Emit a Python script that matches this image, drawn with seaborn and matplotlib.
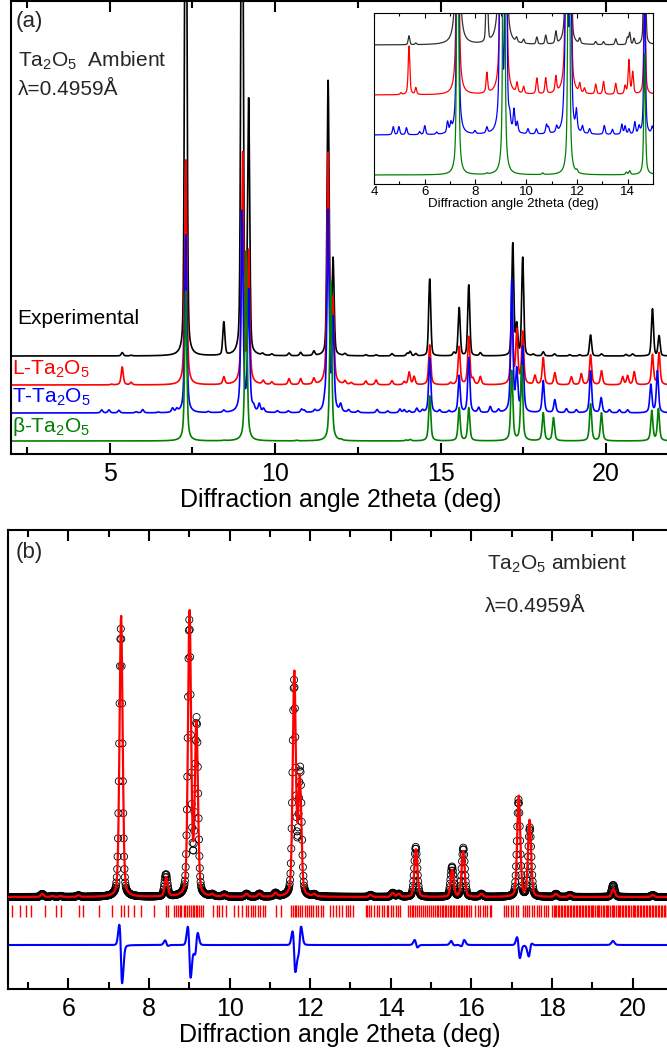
import numpy as np
import pandas as pd
import matplotlib
matplotlib.use("Agg")
import matplotlib.pyplot as plt
from matplotlib.ticker import MultipleLocator
import seaborn as sns

# ---------------- Panel (a): stacked patterns, peak lists (deg 2theta, a.u.) ----------------
exp_pos = [5.38, 5.65, 7.30, 8.45, 9.00, 9.20, 9.62, 9.90, 10.42, 10.77, 11.17, 11.60, 11.75,
           12.11, 12.74, 13.05, 13.53, 13.99, 14.08, 14.25, 14.67, 15.40, 15.56, 15.85, 16.20,
           17.18, 17.30, 17.48, 17.80, 18.10, 18.44, 18.90, 19.20, 19.53, 19.86, 20.60, 20.80,
           21.40, 21.60]
exp_int = [3.3, 0.6, 700, 33, 700, 251, 1.6, 1.5, 2.6, 3.3, 4.4, 274, 94,
           1.9, 1.1, 1.1, 2.2, 2.6, 4.4, 2.2, 77, 3, 48, 71, 3,
           112, 30, 98, 1.5, 4, 2, 1.2, 1.2, 21, 2, 1.5, 2,
           47, 20]

l_pos = [5.06, 5.38, 5.65, 7.30, 8.45, 9.02, 9.20, 9.64, 9.90, 10.42, 10.77, 11.17, 11.60, 11.75,
         12.11, 12.30, 12.74, 13.05, 13.53, 13.90, 14.05, 14.20, 14.67, 15.30, 15.56, 15.85, 15.98,
         16.20, 17.15, 17.30, 17.48, 17.85, 18.10, 18.45, 18.95, 19.25, 19.53, 19.86, 20.50, 20.65,
         20.85, 21.40, 21.60]
l_int = [0.7, 18, 2.5, 225, 7.5, 230, 130, 3.7, 2.6, 5.9, 5.9, 5.9, 230, 80,
         3.3, 1.9, 3.7, 4.8, 4.1, 3, 12.6, 8.1, 40, 2, 38, 48, 5,
         8, 70, 53, 52, 9, 27, 12, 8, 11, 30, 14, 8, 9,
         13, 30, 32]

t_pos = [4.76, 4.98, 5.28, 5.80, 6.00, 6.47, 6.90, 7.03, 7.30, 7.98, 8.45, 9.00, 9.20, 9.35, 9.52,
         9.65, 10.07, 10.40, 10.80, 10.88, 11.20, 11.50, 11.60, 11.75, 11.98, 12.22, 12.50, 13.08,
         13.40, 13.77, 13.90, 14.05, 14.28, 14.45, 14.67, 14.97, 15.25, 15.56, 15.85, 16.15, 16.50,
         16.75, 17.15, 17.30, 17.48, 18.10, 18.45, 18.80, 19.10, 19.53, 19.85, 20.10, 20.40, 20.65,
         21.35, 21.55]
t_int = [3, 3, 2.6, 1.1, 3.3, 0.8, 4.1, 3, 178, 1.1, 2.2, 200, 120, 4, 8,
         3.7, 1.9, 1.9, 3.3, 2.2, 2.2, 6, 200, 90, 7.4, 2.6, 1.9, 3.3,
         1.9, 3.7, 3, 1.9, 4.4, 2.6, 55, 2.6, 2, 37, 55, 5, 6,
         3, 132, 40, 65, 32, 13, 4, 3, 42, 15, 3, 3, 3,
         28, 42]

b_pos = [7.30, 8.45, 9.12, 10.65, 11.68, 12.00, 13.95, 14.08, 14.67, 15.56, 15.85, 17.15, 17.45,
         18.10, 18.41, 19.53, 19.86, 21.38, 21.58]
b_int = [150, 0.4, 190, 0.6, 160, 0.9, 0.9, 1.4, 45, 33, 33, 70, 75,
         28, 23, 37, 28, 30, 32]

stack_names = ["Experimental", "L-Ta$_2$O$_5$", "T-Ta$_2$O$_5$", "\u03b2-Ta$_2$O$_5$"]
stack_colors = ["black", "#ff0000", "#0000ff", "#008000"]
stack_offsets = [98, 69, 41, 13]          # baseline of each pattern in the main panel
inset_offsets = [139, 89, 49, 9]          # baselines in the zoomed inset
inset_gain = 2.7                          # inset magnification

# ---------------- Panel (b): Rietveld fit ----------------
obs_pos = [5.35, 5.60, 5.80, 6.25, 7.30, 8.42, 9.00, 9.18, 9.57, 9.87, 10.42, 10.74, 11.14, 11.60,
           11.75, 12.10, 13.50, 14.05, 14.20, 14.62, 15.52, 15.80, 16.25, 17.17, 17.45, 18.10,
           18.45, 19.52, 20.50]
obs_int = [3, 1, 1, 1.5, 268, 22, 274, 175, 2, 2, 3, 3, 3.5, 214,
           125, 2, 2, 4, 3, 50, 30, 49, 3, 97, 69, 3,
           2, 12, 2]
calc_int = [3, 1, 1, 1.5, 282, 19, 285, 172, 2, 2, 3, 3, 3.5, 224,
            116, 2, 2, 4, 3, 48, 27, 46, 3, 101, 77, 3,
            2, 8, 2]
calc_shift = [0, 0, 0, 0, 0.007, 0.008, 0.006, -0.004, 0, 0, 0, 0, 0, 0.006,
              -0.007, 0, 0, 0, 0, 0.005, 0.004, -0.004, 0, 0.007, -0.005, 0,
              0, 0.003, 0]
fit_baseline = 92
diff_baseline = 44
tick_row = (72, 84)

bragg_pos = [4.61, 4.79, 4.95, 5.07, 5.42, 5.68, 5.82, 6.26, 6.37, 6.76, 7.07, 7.30, 7.37, 7.48,
             7.63, 7.79, 8.13, 8.42, 8.48, 8.63, 8.68, 8.72, 8.77, 8.80, 8.86, 8.90, 8.95, 9.00,
             9.03, 9.08, 9.12, 9.17, 9.20, 9.25, 9.30, 9.34, 9.58, 9.69, 9.74, 9.80, 9.90, 10.10,
             10.20, 10.32, 10.40, 10.45, 10.52, 10.57, 10.63, 10.70, 10.76, 10.82, 10.88, 11.16,
             11.27, 11.53, 11.57, 11.62, 11.66, 11.70, 11.75, 11.80, 11.86, 11.91, 11.96, 12.02,
             12.08, 12.14, 12.20, 12.26, 12.32, 12.48, 12.56, 12.63, 12.72, 12.80, 12.88, 12.94,
             13.00, 13.06, 13.38, 13.42, 13.47, 13.52, 13.58, 13.65, 13.72, 13.78, 13.84, 13.90,
             13.94, 14.00, 14.06, 14.12, 14.18, 14.22, 14.43, 14.47, 14.52, 14.56, 14.60, 14.65,
             14.70, 14.76, 14.80, 14.85, 14.90, 14.95, 15.00, 15.05, 15.10, 15.14, 15.18, 15.22,
             15.26, 15.30, 15.34, 15.38, 15.42, 15.46, 15.50, 15.54, 15.58, 15.62, 15.66, 15.70,
             15.74, 15.78, 15.82, 15.86, 15.90, 15.95, 16.00, 16.10, 16.16, 16.22, 16.28, 16.34,
             16.40, 16.46, 16.50, 16.80, 16.86, 16.92, 16.98, 17.04, 17.10, 17.16, 17.27, 17.32,
             17.38, 17.44, 17.50, 17.56, 17.62, 17.68, 17.74, 17.80, 17.86, 17.90, 18.00, 18.04,
             18.07, 18.11, 18.15, 18.18, 18.22, 18.26, 18.30, 18.33, 18.37, 18.41, 18.44, 18.48,
             18.52, 18.55, 18.59, 18.63, 18.66, 18.70, 18.74, 18.78, 18.81, 18.85, 18.89, 18.92,
             18.96, 19.00, 19.03, 19.07, 19.11, 19.15, 19.18, 19.22, 19.26, 19.29, 19.33, 19.37,
             19.40, 19.44, 19.48, 19.52, 19.55, 19.59, 19.63, 19.66, 19.70, 19.74, 19.77, 19.81,
             19.85, 19.89, 19.92, 19.96, 20.00, 20.03, 20.07, 20.11, 20.14, 20.18, 20.22, 20.26,
             20.29, 20.33, 20.37, 20.40, 20.44, 20.48, 20.51, 20.55, 20.59, 20.63, 20.66, 20.70,
             20.74, 20.77, 20.81, 20.85, 20.88, 20.92, 20.96]


def pseudo_voigt(x, pos, inten, fwhm, eta):
    d = (x[:, None] - np.asarray(pos)[None, :]) / fwhm
    lor = 1.0 / (1.0 + 4.0 * d ** 2)
    gau = np.exp(-4.0 * np.log(2.0) * d ** 2)
    return (np.asarray(inten)[None, :] * (eta * lor + (1.0 - eta) * gau)).sum(axis=1)


# ---------------- style ----------------
sns.set_theme(style="ticks")
plt.rcParams.update({
    "font.family": ["Liberation Sans", "DejaVu Sans"],
    "mathtext.fontset": "custom",
    "mathtext.rm": "Liberation Sans",
    "mathtext.it": "Liberation Sans:italic",
    "mathtext.bf": "Liberation Sans:bold",
    "axes.linewidth": 1.5,
    "axes.edgecolor": "black",
    "xtick.color": "black",
    "axes.labelcolor": "black",
})

W, H = 667, 1055
fig = plt.figure(figsize=(W / 100, H / 100), dpi=100)


def px_axes(left, top, right, bottom):
    return fig.add_axes([left / W, 1 - bottom / H, (right - left) / W, (bottom - top) / H])


def style_axis(ax, major, minor, size, pad, lw=1.5, maj_len=8, min_len=5):
    ax.xaxis.set_major_locator(MultipleLocator(major))
    ax.xaxis.set_minor_locator(MultipleLocator(minor))
    ax.tick_params(axis="x", which="both", direction="in", top=True, bottom=True,
                   labelsize=size, pad=pad, width=lw)
    ax.tick_params(axis="x", which="major", length=maj_len)
    ax.tick_params(axis="x", which="minor", length=min_len)
    ax.tick_params(axis="y", left=False, right=False, labelleft=False)
    ax.set_ylabel("")
    for s in ax.spines.values():
        s.set_visible(True)
        s.set_linewidth(lw)


# ---------------- panel (a) ----------------
axA = px_axes(11, 1, 671, 454)
xa = np.arange(2.0, 22.0, 0.004)
peak_sets = [(exp_pos, exp_int, 0.3), (l_pos, l_int, 0.6), (t_pos, t_int, 0.6), (b_pos, b_int, 0.6)]
profiles = [pseudo_voigt(xa, p, i, 0.075, eta) for p, i, eta in peak_sets]

for prof, off, col in zip(profiles, stack_offsets, stack_colors):
    sns.lineplot(x=xa, y=prof + off, ax=axA, color=col, lw=1.2, estimator=None, sort=False)
axA.set_xlim(2.02, 21.96)
axA.set_ylim(0, 453)
style_axis(axA, 5, 2.5, 18, 5.5)
axA.set_xlabel("Diffraction angle 2theta (deg)", fontsize=18, labelpad=1.5)

fig.text(16 / W, 1 - 27 / H, "(a)", fontsize=16, va="baseline", ha="left")
fig.text(18 / W, 1 - 67 / H, "Ta$_2$O$_5$  Ambient", fontsize=15, va="baseline", ha="left")
fig.text(18 / W, 1 - 95 / H, "\u03bb=0.4959\u00c5", fontsize=15, va="baseline", ha="left")
label_baselines = [324, 375, 403, 432]
label_x = [17, 12, 12, 12]
for name, col, yb, xl in zip(stack_names, stack_colors, label_baselines, label_x):
    fig.text(xl / W, 1 - yb / H, name, fontsize=15, color=col, va="baseline", ha="left")

# inset: low-angle region magnified
axI = px_axes(374, 13, 653, 184)
xi = np.arange(4.0, 15.0, 0.004)
for (p, i, eta), off, col in zip(peak_sets, inset_offsets, stack_colors):
    prof = pseudo_voigt(xi, p, i, 0.075, eta) * inset_gain
    sns.lineplot(x=xi, y=prof + off, ax=axI, color=col if col != "black" else "#303030",
                 lw=0.9, estimator=None, sort=False)
axI.set_xlim(4, 15)
axI.set_ylim(0, 171)
style_axis(axI, 2, 1, 9.5, 1.5, lw=0.8, maj_len=3.5, min_len=2)
axI.set_xlabel("Diffraction angle 2theta (deg)", fontsize=9.5, labelpad=0)

# ---------------- panel (b) ----------------
axB = px_axes(8, 530, 672, 989)
xb = np.arange(4.5, 21.0, 0.01)
obs = pseudo_voigt(xb, obs_pos, obs_int, 0.09, 0.3)
calc_pos = [p + s for p, s in zip(obs_pos, calc_shift)]
calc = pseudo_voigt(xb, calc_pos, calc_int, 0.09, 0.3)
fit_df = pd.DataFrame({"two_theta": xb, "obs": obs + fit_baseline, "calc": calc + fit_baseline,
                       "diff": obs - calc + diff_baseline})

sns.scatterplot(data=fit_df, x="two_theta", y="obs", ax=axB, marker="o", s=26,
                facecolor="none", edgecolor="black", linewidth=0.6, zorder=2)
sns.lineplot(data=fit_df, x="two_theta", y="calc", ax=axB, color="#ff0000", lw=1.6,
             estimator=None, sort=False, zorder=3)
axB.vlines(bragg_pos, tick_row[0], tick_row[1], color="#ff0000", lw=1.0)
sns.lineplot(data=fit_df, x="two_theta", y="diff", ax=axB, color="#0000ff", lw=1.5,
             estimator=None, sort=False)
axB.set_xlim(4.5, 20.98)
axB.set_ylim(0, 459)
style_axis(axB, 2, 1, 18, 5.5)
axB.set_xlabel("Diffraction angle 2theta (deg)", fontsize=18, labelpad=1.5)

fig.text(16 / W, 1 - 558 / H, "(b)", fontsize=16, va="baseline", ha="left")
fig.text(487 / W, 1 - 570 / H, "Ta$_2$O$_5$ ambient", fontsize=15, va="baseline", ha="left")
fig.text(485 / W, 1 - 612 / H, "\u03bb=0.4959\u00c5", fontsize=15, va="baseline", ha="left")

fig.savefig("out.png", dpi=100)
